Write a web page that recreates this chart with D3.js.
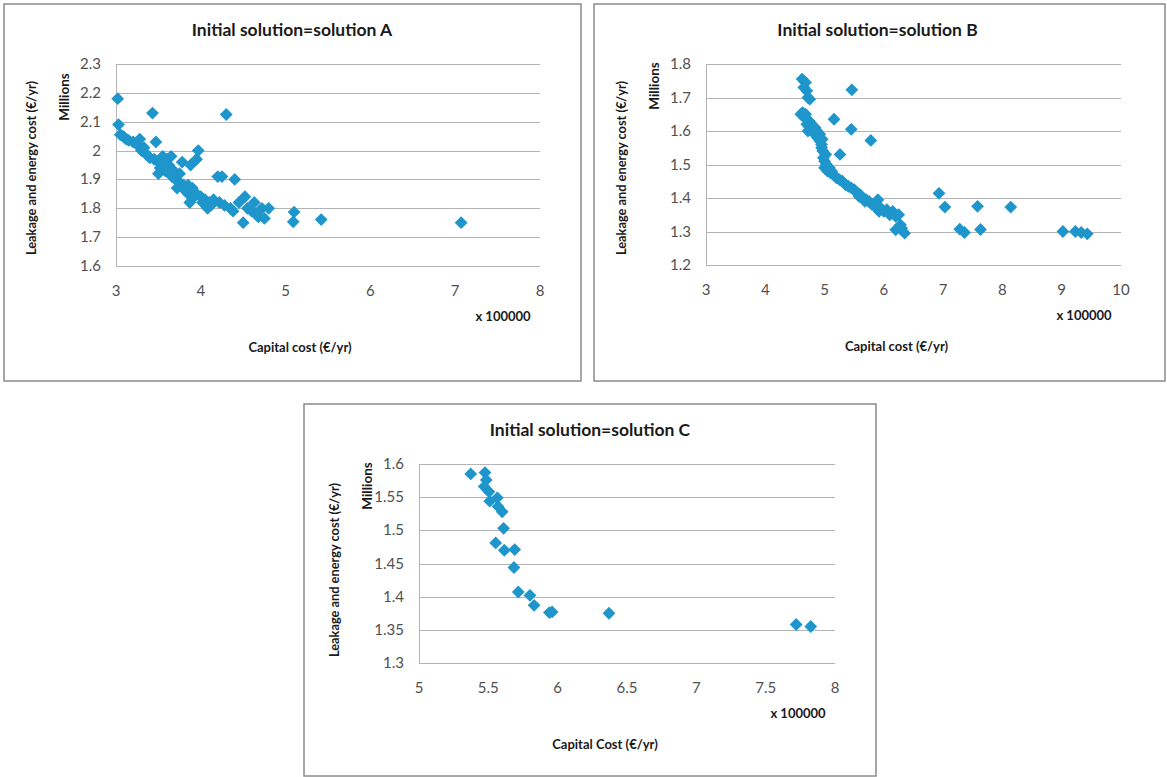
<!DOCTYPE html>
<html><head><meta charset="utf-8">
<script src="https://cdn.jsdelivr.net/npm/d3@7"></script>
<style>body{margin:0;background:#fff}text{font-family:Lato,"Open Sans",sans-serif}</style>
</head><body>
<svg id="c" width="1167" height="777"></svg>
<script>
// ---------- data ----------
const titles = ["Initial solution=solution  A", "Initial solution=solution  B", "Initial solution=solution  C"];
const xLabels = ["Capital cost (€/yr)", "Capital cost (€/yr)", "Capital Cost (€/yr)"];
const yLabel = "Leakage and energy cost (€/yr)";
const yUnit = "Millions";
const xUnit = "x 100000";

const aX = [3.02,3.03,3.05,3.08,3.10,3.12,3.20,3.25,3.28,3.30,3.35,3.38,3.43,3.45,3.47,3.50,3.50,3.52,3.55,3.60,3.62,3.65,3.68,3.70,3.72,3.75,3.78,3.80,3.82,3.85,3.87,3.88,3.90,3.92,3.95,3.97,4.00,4.02,4.05,4.08,4.10,4.15,4.20,4.22,4.25,4.28,4.30,4.35,4.38,4.40,4.45,4.50,4.52,4.55,4.60,4.63,4.65,4.68,4.72,4.75,4.80,5.10,5.09,5.42,7.07,3.40,3.58,3.33,3.15,3.66,3.55,3.75,3.85,3.60,3.95,4.12];
const aY = [2.18,2.09,2.055,2.05,2.045,2.04,2.03,2.02,2.04,2.00,1.99,1.98,2.13,1.97,2.03,1.96,1.92,1.94,1.98,1.97,1.95,1.98,1.93,1.90,1.87,1.89,1.96,1.88,1.86,1.85,1.82,1.95,1.87,1.84,1.97,2.00,1.84,1.82,1.83,1.80,1.82,1.83,1.91,1.82,1.91,1.81,2.125,1.80,1.79,1.90,1.82,1.75,1.84,1.80,1.79,1.82,1.78,1.77,1.80,1.765,1.80,1.787,1.753,1.761,1.75,1.975,1.93,2.01,2.035,1.91,1.95,1.92,1.88,1.93,1.85,1.81];
const aXTicks = [3,4,5,6,7,8];
const aYTicks = [1.6,1.7,1.8,1.9,2.0,2.1,2.2,2.3];
const aYTickLabels = ["1.6","1.7","1.8","1.9","2","2.1","2.2","2.3"];

const bX = [4.62,4.68,4.65,4.70,4.72,4.75,5.46,4.63,4.68,4.70,4.72,4.75,4.78,4.80,4.82,4.85,4.88,4.90,4.92,4.95,4.95,4.97,4.98,5.00,5.00,5.03,5.05,5.10,5.15,5.16,5.20,5.25,5.26,5.30,5.35,5.40,5.45,5.45,5.50,5.55,5.60,5.65,5.70,5.75,5.78,5.80,5.85,5.90,5.92,5.95,6.00,6.05,6.10,6.15,6.20,6.25,6.20,6.28,6.30,6.35,6.93,7.03,7.28,7.36,7.58,7.63,8.14,9.02,9.23,9.33,9.43,4.66,4.74,4.78,4.84,4.87,4.92,4.96,5.02,5.08,5.12,4.60,5.58,5.68];
const bY = [1.755,1.745,1.73,1.72,1.70,1.695,1.723,1.655,1.65,1.62,1.60,1.61,1.60,1.60,1.595,1.59,1.58,1.585,1.57,1.56,1.55,1.54,1.52,1.51,1.49,1.50,1.48,1.475,1.47,1.635,1.46,1.455,1.53,1.45,1.44,1.435,1.605,1.43,1.425,1.415,1.41,1.40,1.395,1.39,1.572,1.38,1.375,1.395,1.36,1.37,1.36,1.365,1.35,1.36,1.345,1.35,1.305,1.32,1.31,1.295,1.414,1.373,1.307,1.297,1.375,1.306,1.373,1.30,1.30,1.297,1.293,1.64,1.63,1.62,1.61,1.60,1.59,1.575,1.53,1.49,1.48,1.65,1.405,1.39];
const bXTicks = [3,4,5,6,7,8,9,10];
const bYTicks = [1.2,1.3,1.4,1.5,1.6,1.7,1.8];
const bYTickLabels = ["1.2","1.3","1.4","1.5","1.6","1.7","1.8"];

const cX = [5.373,5.476,5.485,5.47,5.505,5.51,5.565,5.57,5.60,5.61,5.553,5.615,5.69,5.685,5.716,5.80,5.83,5.94,5.96,6.37,7.72,7.825];
const cY = [1.585,1.587,1.576,1.566,1.558,1.544,1.549,1.536,1.528,1.503,1.481,1.470,1.471,1.444,1.407,1.402,1.387,1.376,1.377,1.375,1.358,1.355];
const cXTicks = [5,5.5,6,6.5,7,7.5,8];
const cYTicks = [1.3,1.35,1.4,1.45,1.5,1.55,1.6];
const cYTickLabels = ["1.3","1.35","1.4","1.45","1.5","1.55","1.6"];

// ---------- layout ----------
const panels = [
  {box:[4,4,581,381], plot:[116,64,540,266], x:aX, y:aY, xt:aXTicks, yt:aYTicks, ytl:aYTickLabels, title:titles[0], xl:xLabels[0], millY:97, leakY:168, xlDx:-28},
  {box:[594,4,1165,381], plot:[706,64,1121,265], x:bX, y:bY, xt:bXTicks, yt:bYTicks, ytl:bYTickLabels, title:titles[1], xl:xLabels[1], millY:86, leakY:168, xlDx:-17},
  {box:[304,404,876,776], plot:[419,464,835,663], x:cX, y:cY, xt:cXTicks, yt:cYTicks, ytl:cYTickLabels, title:titles[2], xl:xLabels[2], millY:486, leakY:570, xlDx:-22}
];

const svg = d3.select("#c");
const col = "#1e96cc";
const diamond = d3.symbol().type(d3.symbolSquare).size(82);

panels.forEach(p => {
  const [bx0,by0,bx1,by1] = p.box;
  const [px0,py0,px1,py1] = p.plot;
  const g = svg.append("g");
  g.append("rect").attr("x",bx0).attr("y",by0).attr("width",bx1-bx0).attr("height",by1-by0)
    .attr("fill","#fff").attr("stroke","#8a8a8a").attr("stroke-width",1.5);

  const xs = d3.scaleLinear().domain(d3.extent(p.xt)).range([px0,px1]);
  const ys = d3.scaleLinear().domain(d3.extent(p.yt)).range([py1,py0]);

  g.selectAll(".grid").data(p.yt).enter().append("line")
    .attr("x1",px0).attr("x2",px1).attr("y1",d=>Math.round(ys(d))+0.5).attr("y2",d=>Math.round(ys(d))+0.5)
    .attr("stroke","#b4b4b4").attr("stroke-width",1);
  g.append("line").attr("x1",px0+0.5).attr("x2",px0+0.5).attr("y1",py0).attr("y2",py1+0.5)
    .attr("stroke","#b4b4b4");

  g.selectAll(".yt").data(p.yt).enter().append("text")
    .attr("x",px0-15).attr("y",d=>ys(d)+5).attr("text-anchor","end")
    .attr("font-size",15).attr("fill","#505050").text((d,i)=>p.ytl[i]);
  g.selectAll(".xt").data(p.xt).enter().append("text")
    .attr("x",d=>xs(d)).attr("y",py1+30).attr("text-anchor","middle")
    .attr("font-size",15).attr("fill","#505050").text(d=>d);

  g.append("text").attr("x",(px0+px1)/2+ (bx0===304? -37 : -36)).attr("y",by0+32).attr("text-anchor","middle")
    .attr("font-size",17.5).attr("font-weight","bold").attr("fill","#1a1a1a").text(p.title);

  g.append("text").attr("transform",`translate(${px0-47},${p.millY}) rotate(-90)`).attr("text-anchor","middle")
    .attr("font-size",13.5).attr("font-weight","bold").attr("fill","#1a1a1a").text(yUnit);
  g.append("text").attr("transform",`translate(${px0-80},${p.leakY}) rotate(-90)`).attr("text-anchor","middle")
    .attr("font-size",12.8).attr("font-weight","bold").attr("fill","#1a1a1a").text(yLabel);

  g.append("text").attr("x",px1-37).attr("y",py1+55).attr("text-anchor","middle")
    .attr("font-size",13).attr("font-weight","bold").attr("fill","#1a1a1a").text(xUnit);
  g.append("text").attr("x",(px0+px1)/2+p.xlDx).attr("y",py1+86).attr("text-anchor","middle")
    .attr("font-size",13).attr("font-weight","bold").attr("fill","#1a1a1a").text(p.xl);

  g.selectAll(".pt").data(p.x.map((v,i)=>[v,p.y[i]])).enter().append("path")
    .attr("d",diamond).attr("fill",col)
    .attr("transform",d=>`translate(${xs(d[0])},${ys(d[1])}) rotate(45)`);
});
</script>
</body></html>
